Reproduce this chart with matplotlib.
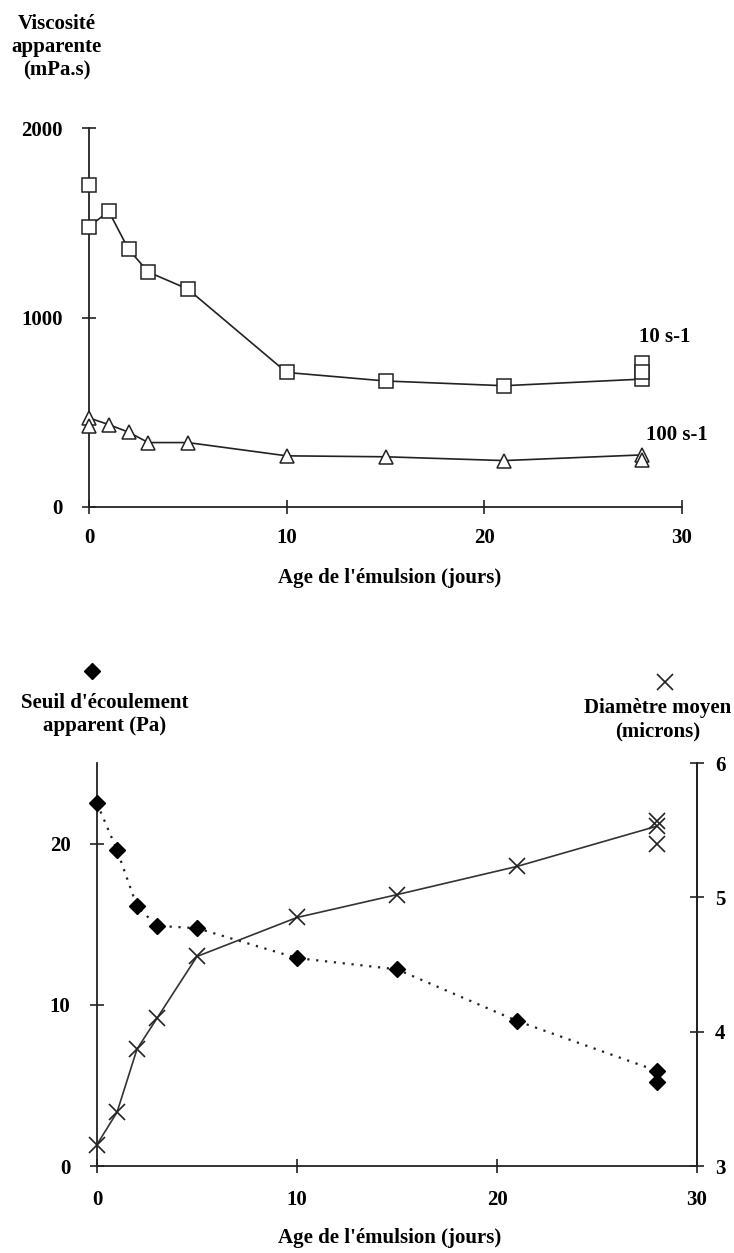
#!/usr/bin/env python3
import matplotlib
matplotlib.use('Agg')
import matplotlib.pyplot as plt
from matplotlib.lines import Line2D

# data
days = [0, 1, 2, 3, 5, 10, 15, 21, 28]

# apparent viscosity (mPa.s)
visc_10 = [1480, 1560, 1360, 1240, 1150, 710, 665, 640, 675]
visc_10_rep_days = [0, 28, 28]
visc_10_rep = [1700, 760, 715]

visc_100 = [470, 435, 395, 340, 340, 270, 265, 245, 275]
visc_100_rep_days = [0, 28]
visc_100_rep = [425, 250]

# yield stress (Pa) and mean diameter (microns)
seuil = [22.5, 19.6, 16.1, 14.9, 14.75, 12.9, 12.2, 9.0, 5.9]
seuil_rep_days = [28]
seuil_rep = [5.2]

diam = [3.16, 3.40, 3.87, 4.10, 4.56, 4.85, 5.02, 5.23, 5.53]
diam_rep_days = [28, 28]
diam_rep = [5.40, 5.57]

W, H = 734, 1253
FONT = 'Liberation Serif'
plt.rcParams['font.family'] = FONT
plt.rcParams['font.weight'] = 'bold'


def px_rect(x0, y0, x1, y1):
    return [x0 / W, 1 - y1 / H, (x1 - x0) / W, (y1 - y0) / H]


def fx(x):
    return x / W


def fy(y):
    return 1 - y / H


def style_axis(ax, spines):
    for s in ['top', 'right', 'left', 'bottom']:
        ax.spines[s].set_visible(s in spines)
        ax.spines[s].set_linewidth(1.3)
        ax.spines[s].set_color('#222222')
    ax.tick_params(direction='inout', length=10, width=1.2, color='#222222',
                   labelsize=15)
    for lab in ax.get_xticklabels() + ax.get_yticklabels():
        lab.set_fontweight('bold')


fig = plt.figure(figsize=(W / 100, H / 100), dpi=100)

# ---------------- top chart: viscosity ----------------
ax1 = fig.add_axes(px_rect(89, 128, 682, 507))
ax1.set_xlim(0, 30)
ax1.set_ylim(0, 2000)
ax1.set_xticks([0, 10, 20, 30])
ax1.set_yticks([0, 1000, 2000])
style_axis(ax1, ['left', 'bottom'])
ax1.tick_params(axis='x', pad=10)
ax1.tick_params(axis='y', pad=14)

sq = dict(marker='s', markersize=10, markerfacecolor='white',
          markeredgecolor='#222222', markeredgewidth=1.1, clip_on=False, zorder=3)
tri = dict(marker='^', markersize=10, markerfacecolor='white',
           markeredgecolor='#222222', markeredgewidth=1.1, clip_on=False, zorder=3)

ax1.plot(days, visc_10, color='#222222', lw=1.2, **sq)
ax1.plot(visc_10_rep_days, visc_10_rep, ls='none', **sq)
ax1.plot(days, visc_100, color='#222222', lw=1.2, **tri)
ax1.plot(visc_100_rep_days, visc_100_rep, ls='none', **tri)

ax1.text(27.8, 895, '10 s-1', fontsize=15, fontweight='bold', va='center', ha='left')
ax1.text(28.2, 378, '100 s-1', fontsize=15, fontweight='bold', va='center', ha='left')

fig.text(fx(57), fy(47), 'Viscosité\napparente\n(mPa.s)', fontsize=15,
         fontweight='bold', ha='center', va='center', linespacing=1.2)
fig.text(fx(390), fy(578), "Age de l'émulsion (jours)", fontsize=15,
         fontweight='bold', ha='center', va='center')

# ---------------- bottom chart: yield stress + diameter ----------------
ax2 = fig.add_axes(px_rect(97, 763, 697, 1166))
ax2.set_xlim(0, 30)
ax2.set_ylim(0, 25)
ax2.set_xticks([0, 10, 20, 30])
ax2.set_yticks([0, 10, 20])
style_axis(ax2, ['left', 'bottom', 'right'])
ax2.tick_params(axis='x', pad=12)
ax2.tick_params(axis='y', pad=14)

ax3 = ax2.twinx()
ax3.set_ylim(3, 6)
ax3.set_yticks([3, 4, 5, 6])
style_axis(ax3, ['right'])
ax3.tick_params(axis='y', pad=8)

dia = dict(marker='D', markersize=8, markerfacecolor='black',
           markeredgecolor='black', clip_on=False, zorder=3)
crs = dict(marker='x', markersize=12, markeredgecolor='#222222',
           markeredgewidth=1.2, clip_on=False, zorder=3)

ax2.plot(days, seuil, color='#222222', lw=1.6, ls=(0, (1, 3)), **dia)
ax2.plot(seuil_rep_days, seuil_rep, ls='none', **dia)
ax3.plot(days, diam, color='#333333', lw=1.2, **crs)
ax3.plot(diam_rep_days, diam_rep, ls='none', **crs)

fig.add_artist(Line2D([fx(92)], [fy(671)], transform=fig.transFigure, ls='none',
                      marker='D', markersize=8, color='black'))
fig.add_artist(Line2D([fx(665)], [fy(682)], transform=fig.transFigure, ls='none',
                      marker='x', markersize=12, markeredgewidth=1.2, color='#222222'))

fig.text(fx(105), fy(715), "Seuil d'écoulement\napparent (Pa)", fontsize=15,
         fontweight='bold', ha='center', va='center', linespacing=1.2)
fig.text(fx(658), fy(720), 'Diamètre moyen\n(microns)', fontsize=15,
         fontweight='bold', ha='center', va='center', linespacing=1.2)
fig.text(fx(390), fy(1238), "Age de l'émulsion (jours)", fontsize=15,
         fontweight='bold', ha='center', va='center')

plt.savefig('out.png', dpi=100)
plt.close()
